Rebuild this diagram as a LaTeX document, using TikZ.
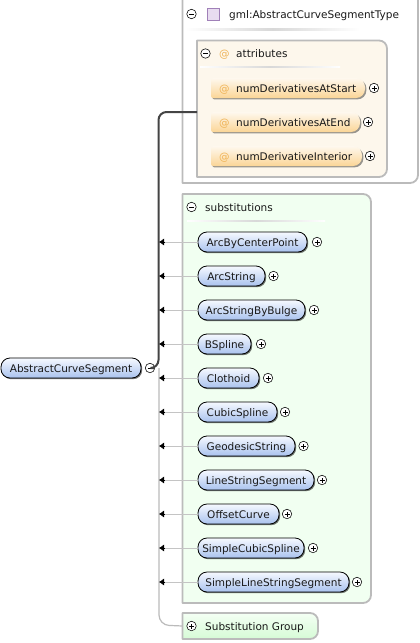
\documentclass[tikz,border=0pt]{standalone}
\usepackage{fontspec}
\setmainfont{DejaVu Sans}
\usetikzlibrary{shadows,arrows.meta,calc}
\definecolor{boxline}{HTML}{BBBBBB}
\definecolor{attrfill}{HTML}{FDF7EC}
\definecolor{subfill}{HTML}{F1FFF1}
\definecolor{trunk}{HTML}{444444}
\definecolor{atcol}{HTML}{F0B458}
\definecolor{elemtop}{HTML}{F6F9FF}
\definecolor{elembot}{HTML}{A9C2EE}
\definecolor{attrtop}{HTML}{FEF8EE}
\definecolor{attrbot}{HTML}{FBD596}
\definecolor{grouptop}{HTML}{F4FFF4}
\definecolor{groupbot}{HTML}{D6FBD6}
\definecolor{sepcol}{HTML}{D8D8D8}
\definecolor{iconfill}{HTML}{E8DCF0}
\definecolor{iconline}{HTML}{A080B8}
\definecolor{arrcol}{HTML}{C4C4C4}
\tikzset{
  every node/.style={font=\fontsize{10.5}{12}\selectfont, text=black!90},
  anchorbox/.style={inner sep=0pt, outer sep=0pt},
  framebox/.style={draw=boxline, line width=1.8pt, line join=round},
  elem/.style={draw=black, line width=.8pt, rounded corners=9pt, top color=elemtop, bottom color=elembot,
    minimum height=20pt, text height=9.4pt, text depth=1pt, inner sep=0pt, outer sep=0pt, anchor=west,
    drop shadow={shadow xshift=1.2pt, shadow yshift=-1.2pt, fill=black, opacity=.55}},
  attrshape/.style={top color=attrtop, bottom color=attrbot,
    drop shadow={shadow xshift=1.4pt, shadow yshift=-1.4pt, fill=black, opacity=.4}},
  lbl/.style={inner sep=0pt, anchor=base west},
  tog/.style={circle, draw=black, line width=.55pt, fill=white, minimum size=9.5pt, inner sep=0pt, outer sep=0pt},
  plus/.style={tog, path picture={
    \draw[line width=.55pt] ($(path picture bounding box.center)+(-2.5pt,0)$) -- ++(5pt,0);
    \draw[line width=.55pt] ($(path picture bounding box.center)+(0,-2.5pt)$) -- ++(0,5pt);}},
  minus/.style={tog, path picture={
    \draw[line width=.55pt] ($(path picture bounding box.center)+(-2.5pt,0)$) -- ++(5pt,0);}},
  subst/.style={draw=boxline, line width=1.2pt},
  arrline/.style={draw=arrcol, line width=1pt},
  arrtip/.style={draw=black, line width=.5pt, -{Latex[length=5pt,width=7pt]}},
  sep/.style={left color=white, right color=white, middle color=sepcol, draw=none}
}
\newcommand{\elemrow}[5]{% name, text, y, right, toggle x
  \pgfmathsetlengthmacro{\elw}{(#4-198)*1pt}
  \node[elem, minimum width=\elw] (#1) at (198,#3) {#2};
  \node[plus] (#1t) at (#5,#3) {};
  \coordinate (#1a) at (159,#3);
  \coordinate (#1b) at (164.5,#3);
  \draw[arrline] (#1.west) -- (#1b);
  \draw[arrtip] (#1b) -- (#1a);
}
\newcommand{\attrrow}[5]{%
  \pgfmathsetlengthmacro{\elw}{(#4-211)*1pt}
  \node[anchorbox, minimum width=\elw, minimum height=20pt, anchor=west] (#1) at (211,#3) {};
  \path[attrshape] (#1.south west) [rounded corners=2pt] -- (#1.north west) -- (#1.north east -| #1.center) [rounded corners=9pt] -- (#1.north east) -- (#1.south east) [rounded corners=2pt] -- cycle;
  \node[lbl, text=atcol] (#1i) at (219,#3+4.2) {@};
  \node[lbl] (#1l) at (236,#3+4.2) {#2};
  \node[plus] (#1t) at (#5,#3) {};
}
\begin{document}
\begin{tikzpicture}[x=1pt,y=-1pt]
\useasboundingbox[fill=white] (0,0) rectangle (420,643);
\begin{scope}
\clip (0,0) rectangle (420,643);
% gml type box
\node[anchorbox, minimum width=235.5pt, minimum height=193pt] (typebox) at (300.25,86.5) {};
\draw[framebox, fill=white] (typebox.north west) [sharp corners] -- (typebox.north east) [rounded corners=8pt] -- (typebox.south east) [sharp corners] -- (typebox.south west) -- cycle;
\node[minus] (typet) at (191.5,14) {};
\node[anchorbox, minimum size=12pt, draw=iconline, fill=iconfill, line width=.8pt, drop shadow={shadow xshift=1.2pt, shadow yshift=0pt, fill=black, opacity=.3}] (typeicon) at (213,14.5) {};
\node[lbl] (typel) at (229,18) {gml:AbstractCurveSegmentType};
\path[sep] (185,28.5) rectangle (360,30);
% attributes box
\node[anchorbox, minimum width=190pt, minimum height=136.5pt] (attrbox) at (292,108.75) {};
\draw[framebox, fill=attrfill] (attrbox.south west) [sharp corners] -- (attrbox.north west) [rounded corners=8pt] -- (attrbox.north east) -- (attrbox.south east) [sharp corners] -- cycle;
\node[minus] (attrt) at (205.5,53.5) {};
\node[lbl, text=atcol] (attri) at (219,57) {@};
\node[lbl] (attrl) at (236,57) {attributes};
\path[sep] (200,66) rectangle (340,67);
\attrrow{ns}{numDerivativesAtStart}{88}{365}{374}
\attrrow{ne}{numDerivativesAtEnd}{122}{360}{368}
\attrrow{ni}{numDerivativeInterior}{156}{362}{370}
% substitutions box
\node[anchorbox, minimum width=188.5pt, minimum height=409pt] (subbox) at (276.75,398.5) {};
\draw[framebox, fill=subfill] (subbox.south west) [sharp corners] -- (subbox.north west) [rounded corners=8pt] -- (subbox.north east) -- (subbox.south east) [sharp corners] -- cycle;
\node[minus] (subt) at (191.5,207) {};
\node[lbl] (subl) at (205,211) {substitutions};
\path[sep] (187,220) rectangle (325,221);
% group box
\node[anchorbox, minimum width=135.5pt, minimum height=26pt] (grpbox) at (250.25,626) {};
\draw[framebox, top color=grouptop, bottom color=groupbot] (grpbox.south west) [sharp corners] -- (grpbox.north west) [rounded corners=8pt] -- (grpbox.north east) -- (grpbox.south east) [sharp corners] -- cycle;
\node[plus] (grpt) at (191.5,626) {};
\node[lbl] (grpl) at (205,630) {Substitution Group};
% root
\node[elem, minimum width=140pt] (root) at (1,368) {AbstractCurveSegment};
\node[minus] (roott) at (150,368) {};
% trunk connectors
\coordinate (bend) at (159,368);
\draw[subst, rounded corners=10pt] (bend) -- (159,625) -- (grpbox.west);
\draw[draw=trunk, line width=2pt, rounded corners=8pt] (roott.east) -- (158.5,368) -- (158.5,112) -- (attrbox.west |- 0,112);
% rows
\elemrow{e1}{ArcByCenterPoint}{242}{307}{317}
\elemrow{e2}{ArcString}{276}{265}{273.5}
\elemrow{e3}{ArcStringByBulge}{310}{305}{314}
\elemrow{e4}{BSpline}{344}{251}{261}
\elemrow{e5}{Clothoid}{378}{259}{268}
\elemrow{e6}{CubicSpline}{412}{277}{285}
\elemrow{e7}{GeodesicString}{446}{295}{303.5}
\elemrow{e8}{LineStringSegment}{480}{314}{322}
\elemrow{e9}{OffsetCurve}{514}{279}{287}
\elemrow{e10}{SimpleCubicSpline}{548}{304}{313}
\elemrow{e11}{SimpleLineStringSegment}{582}{349}{357}
\end{scope}
\end{tikzpicture}
\end{document}
